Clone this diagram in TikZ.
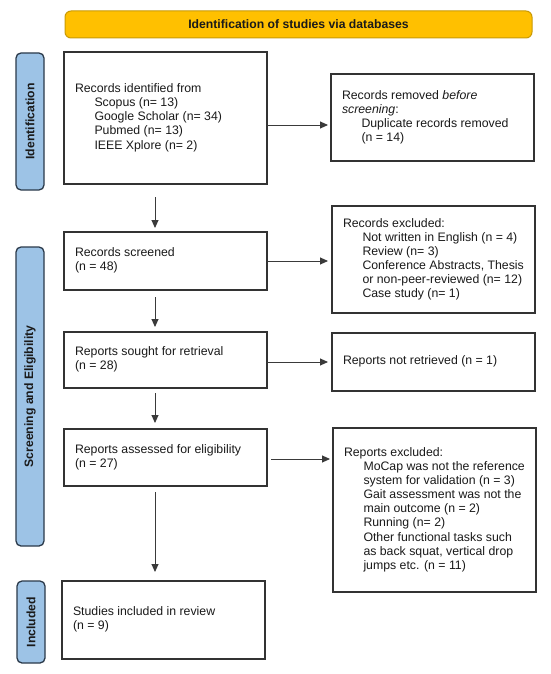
\documentclass[tikz,border=0pt]{standalone}
\usepackage{fontspec}
\setmainfont{Liberation Sans}
\usetikzlibrary{arrows.meta}
\definecolor{bannerfill}{HTML}{FFC000}
\definecolor{bannerline}{HTML}{C99A06}
\definecolor{sidefill}{HTML}{9DC3E6}
\definecolor{sideline}{HTML}{2B3A4A}
\definecolor{boxline}{HTML}{333333}
\definecolor{arrowc}{HTML}{3A3A3A}
\definecolor{txt}{HTML}{1A1A1A}
\newcommand\bxt[1]{\makebox[181pt][l]{\begin{tabular}{@{}l@{}}#1\end{tabular}}}
\newcommand\indt{\hspace*{19.5pt}}
\begin{document}
\begin{tikzpicture}[x=1pt,y=-1pt,
  font=\fontsize{12.3}{14.1}\selectfont, text=txt,
  pbox/.style={draw=boxline, line width=1.2pt, inner xsep=11pt, inner ysep=0pt, outer sep=0pt, minimum width=203pt},
  side/.style={draw=sideline, fill=sidefill, line width=1.3pt, rounded corners=5pt, rotate=90, minimum height=28pt, inner sep=0pt, outer sep=0pt, font=\fontsize{12.2}{14}\selectfont\bfseries},
  banner/.style={draw=bannerline, fill=bannerfill, line width=1pt, rounded corners=6pt, inner sep=0pt, outer sep=0pt, font=\fontsize{12.2}{14}\selectfont\bfseries},
  arr/.style={draw=arrowc, line width=0.9pt, -{Triangle[length=8pt,width=7pt]}}
]
\fill[white] (0,0) rectangle (550,674);
\useasboundingbox (0,0) rectangle (550,674);

% banner
\node[banner, minimum width=467pt, minimum height=27pt] (ban) at (298.5,24.5) {Identification of studies via databases};

% side bars
\node[side, minimum width=137pt] (s1) at (30,121.5) {Identification};
\node[side, minimum width=299pt] (s2) at (30,396.5) {Screening and Eligibility};
\node[side, minimum width=82pt] (s3) at (31,622) {Included};

% left column
\node[pbox, minimum height=132pt] (b1) at (165.5,118) {\bxt{Records identified from\\
\indt Scopus (n= 13)\\
\indt Google Scholar (n= 34)\\
\indt Pubmed (n= 13)\\
\indt IEEE Xplore (n= 2)}};
\node[pbox, minimum height=58pt] (b2) at (165.5,261) {\bxt{Records screened\\(n = 48)}};
\node[pbox, minimum height=56pt] (b3) at (165.5,360) {\bxt{Reports sought for retrieval\\(n = 28)}};
\node[pbox, minimum height=57pt] (b4) at (165.5,457.5) {\bxt{Reports assessed for eligibility\\(n = 27)}};
\node[pbox, minimum height=78pt] (b5) at (163.5,620) {\bxt{Studies included in review\\(n = 9)}};

% right column
\node[pbox, minimum height=87pt] (r1) at (432.5,117.5) {\bxt{Records removed \textit{before}\\
\textit{screening}:\\
\indt Duplicate records removed\\
\indt (n = 14)}};
\node[pbox, minimum height=107pt] (r2) at (433.5,259.5) {\bxt{Records excluded:\\
\indt Not written in English (n = 4)\\
\indt Review (n= 3)\\
\indt Conference Abstracts, Thesis\\
\indt or non-peer-reviewed (n= 12)\\
\indt Case study (n= 1)}};
\node[pbox, minimum height=58pt] (r3) at (433.5,362) {\bxt{Reports not retrieved (n = 1)}};
\node[pbox, minimum height=164pt] (r4) at (434.5,510) {\bxt{Reports excluded:\\
\indt MoCap was not the reference\\
\indt system for validation (n = 3)\\
\indt Gait assessment was not the\\
\indt main outcome (n = 2)\\
\indt Running (n= 2)\\
\indt Other functional tasks such\\
\indt as back squat, vertical drop\\
\indt jumps etc. (n = 11)}};

% guide coordinates
\coordinate (vx) at (155,0);
\coordinate (h1) at (0,125);
\coordinate (h2) at (0,261);
\coordinate (h3) at (0,362);
\coordinate (h4) at (0,459);

% vertical arrows
\draw[arr, shorten <=13pt, shorten >=4pt] (b1.south -| vx) -- (b2.north -| vx);
\draw[arr, shorten <=7pt, shorten >=5pt] (b2.south -| vx) -- (b3.north -| vx);
\draw[arr, shorten <=5pt, shorten >=6pt] (b3.south -| vx) -- (b4.north -| vx);
\draw[arr, shorten <=6pt, shorten >=9pt] (b4.south -| vx) -- (b5.north -| vx);

% horizontal arrows
\draw[arr, shorten >=3pt] (b1.east |- h1) -- (r1.west |- h1);
\draw[arr, shorten >=4pt] (b2.east |- h2) -- (r2.west |- h2);
\draw[arr, shorten >=4pt] (b3.east |- h3) -- (r3.west |- h3);
\draw[arr, shorten <=4pt, shorten >=3pt] (b4.east |- h4) -- (r4.west |- h4);
\end{tikzpicture}
\end{document}
